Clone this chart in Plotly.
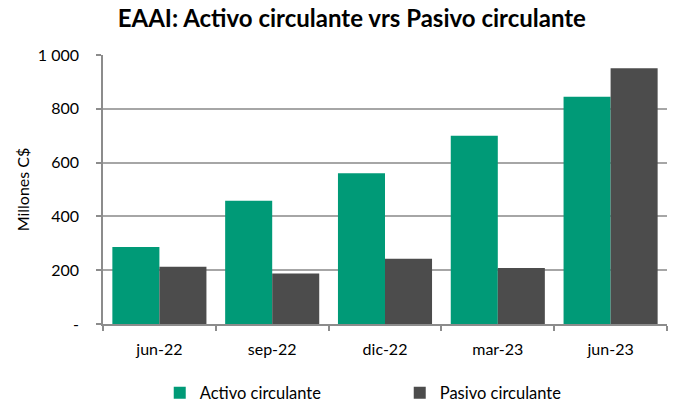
import plotly.graph_objects as go

categories = ["jun-22", "sep-22", "dic-22", "mar-23", "jun-23"]
activo = [286, 458, 560, 700, 845]
pasivo = [213, 188, 243, 208, 951]
y_tickvals = [0, 200, 400, 600, 800, 1000]
y_ticktext = ["-", "200", "400", "600", "800", "1 000"]

FONT = "Lato, Carlito, Calibri, sans-serif"

fig = go.Figure()
fig.add_trace(go.Bar(x=categories, y=activo, name="Activo circulante",
                     marker=dict(color="#009A77", line=dict(width=0))))
fig.add_trace(go.Bar(x=categories, y=pasivo, name="Pasivo circulante",
                     marker=dict(color="#4C4C4C", line=dict(width=0))))

fig.update_layout(
    width=674, height=404,
    margin=dict(l=103, r=7, t=55, b=80, autoexpand=False),
    paper_bgcolor="white", plot_bgcolor="white",
    barmode="group", bargap=0.166, bargroupgap=0,
    font=dict(family=FONT, size=16, color="#000000"),
    title=dict(text="<b>EAAI: Activo circulante vrs Pasivo circulante</b>",
               x=0.522, xanchor="center", y=0.955, yanchor="middle",
               font=dict(family=FONT, size=24, color="#000000")),
    showlegend=True,
    legend=dict(orientation="h", x=0.1006, xanchor="left", y=-0.2565, yanchor="middle",
                entrywidth=195, entrywidthmode="pixels",
                font=dict(family=FONT, size=16.5), itemwidth=30),
)
fig.update_xaxes(showline=True, linecolor="#8C8C8C", linewidth=1.5,
                 ticks="outside", tickson="boundaries", ticklen=5,
                 tickcolor="#8C8C8C", tickwidth=1.5, automargin=False,
                 ticklabelstandoff=10,
                 tickfont=dict(family=FONT, size=16), showgrid=False)
fig.update_yaxes(range=[0, 1000], tickvals=y_tickvals, ticktext=y_ticktext,
                 showline=True, linecolor="#8C8C8C", linewidth=1.5,
                 ticks="outside", ticklen=5, tickcolor="#8C8C8C", tickwidth=1.5,
                 showgrid=True, gridcolor="#A6A6A6", gridwidth=1.5,
                 zeroline=False, automargin=False, ticklabelstandoff=14,
                 title=dict(text="Millones C$", font=dict(family=FONT, size=16), standoff=4),
                 tickfont=dict(family=FONT, size=16))

fig.write_html("out.html", config={"displayModeBar": False},
               post_script="document.body.style.margin='0';document.body.style.overflow='hidden';")
